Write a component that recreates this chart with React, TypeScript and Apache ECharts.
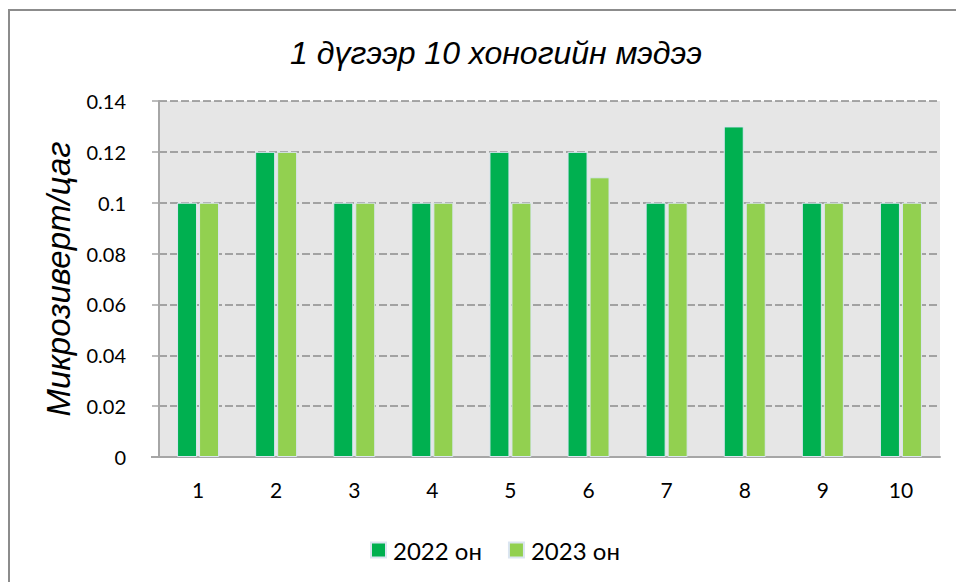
import React, { useEffect, useRef } from "react";
import * as echarts from "echarts";

const categories = ["1", "2", "3", "4", "5", "6", "7", "8", "9", "10"];
const series2022 = [0.1, 0.12, 0.1, 0.1, 0.12, 0.12, 0.1, 0.13, 0.1, 0.1];
const series2023 = [0.1, 0.12, 0.1, 0.1, 0.1, 0.11, 0.1, 0.1, 0.1, 0.1];
const seriesNames = ["2022 он", "2023 он"];
const titleText = "1 дүгээр 10 хоногийн мэдээ";
const yAxisTitle = "Микрозиверт/цаг";

const labelFont = "Lato, 'Noto Sans', sans-serif";
const titleFont = "'Liberation Sans', Arial, sans-serif";

export default function App() {
  const ref = useRef<HTMLDivElement>(null);
  useEffect(() => {
    document.body.style.margin = "0";
    if (!ref.current) return;
    const chart = echarts.init(ref.current, null, { renderer: "svg" });
    const barStyle = (color: string) => ({
      color,
      borderColor: "#dbe5f1",
      borderWidth: 1,
    });
    chart.setOption({
      animation: false,
      backgroundColor: "#ffffff",
      title: {
        text: titleText,
        left: 491,
        top: 32,
        textAlign: "center",
        textStyle: {
          fontFamily: titleFont,
          fontStyle: "italic",
          fontWeight: "normal",
          fontSize: 32,
          color: "#000",
        },
      },
      graphic: [
        {
          type: "rect",
          z: -10,
          silent: true,
          shape: { x: 9, y: 10, width: 1000, height: 1000 },
          style: { fill: "none", stroke: "#8c8c8c", lineWidth: 2 },
        },
        {
          type: "line",
          silent: true,
          shape: { x1: 151, y1: 457, x2: 159, y2: 457 },
          style: { stroke: "#a6a6a6", lineWidth: 2 },
        },
      ],
      legend: {
        data: seriesNames,
        left: 365,
        top: 533,
        itemWidth: 15,
        itemHeight: 15,
        itemGap: 26,
        icon: "rect",
        textStyle: { fontFamily: labelFont, fontSize: 24, color: "#000", padding: [0, 0, 0, 2] },
      },
      grid: {
        left: 159,
        right: 16,
        top: 101,
        bottom: 125,
        show: true,
        backgroundColor: "#e6e6e6",
        borderWidth: 0,
      },
      xAxis: {
        type: "category",
        data: categories,
        axisLine: { show: true, lineStyle: { color: "#a6a6a6", width: 2 } },
        axisTick: { show: false },
        axisLabel: {
          fontFamily: labelFont,
          fontSize: 21,
          color: "#000",
          margin: 22,
        },
      },
      yAxis: {
        type: "value",
        min: 0,
        max: 0.14,
        interval: 0.02,
        name: yAxisTitle,
        nameLocation: "middle",
        nameRotate: 90,
        nameGap: 84,
        nameTextStyle: {
          fontFamily: titleFont,
          fontStyle: "italic",
          fontSize: 33,
          color: "#000",
        },
        axisLine: { show: true, lineStyle: { color: "#a6a6a6", width: 2 } },
        axisTick: {
          show: true,
          length: 7,
          lineStyle: { color: "#a6a6a6", width: 1.5 },
        },
        axisLabel: {
          fontFamily: labelFont,
          fontSize: 20,
          color: "#000",
          margin: 33,
          formatter: (v: number) => String(+v.toFixed(2)),
        },
        splitLine: {
          show: true,
          lineStyle: { color: "#8c8c8c", width: 1.5, type: [8, 3] },
        },
      },
      series: [
        {
          name: seriesNames[0],
          type: "bar",
          data: series2022,
          barWidth: 20,
          barGap: "10%",
          itemStyle: barStyle("#00b050"),
        },
        {
          name: seriesNames[1],
          type: "bar",
          data: series2023,
          barWidth: 20,
          barGap: "10%",
          itemStyle: barStyle("#92d050"),
        },
      ],
    });
    return () => chart.dispose();
  }, []);
  return <div ref={ref} style={{ width: 956, height: 582 }} />;
}
